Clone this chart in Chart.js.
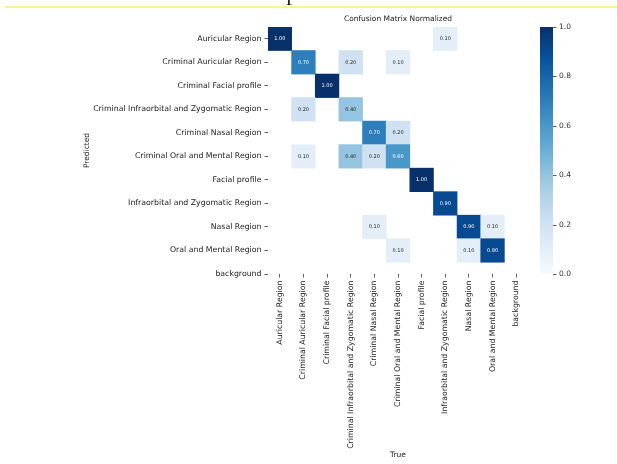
<!DOCTYPE html>
<html lang="en">
<head>
<meta charset="UTF-8">
<title>Confusion Matrix Normalized</title>
<style>
    body { margin: 0; background: #fff; }
    .page { position: relative; width: 617px; height: 464px; overflow: hidden; background: #fff; }
    .chart-box { position: absolute; left: 0; top: 0; width: 617px; height: 464px; }
    /* document heading above the figure, only its lower part is on the page */
    .caption { position: absolute; left: 0; width: 617px; top: -19px; text-align: center;
               font: 21px 'Liberation Serif', serif; color: #111; }
    .rule { position: absolute; left: 5px; right: 0; top: 6px; height: 2px; background: #f6f58c; }
</style>
<script src="https://cdn.jsdelivr.net/npm/chart.js"></script>
</head>
<body>
<div class="page">
    <div class="chart-box"><canvas id="cm"></canvas></div>
    <div class="caption">Epoch 5</div>
    <div class="rule"></div>
</div>
<script>
// classes, used for both axes
const classLabels = [
    'Auricular Region',
    'Criminal Auricular Region',
    'Criminal Facial profile',
    'Criminal Infraorbital and Zygomatic Region',
    'Criminal Nasal Region',
    'Criminal Oral and Mental Region',
    'Facial profile',
    'Infraorbital and Zygomatic Region',
    'Nasal Region',
    'Oral and Mental Region',
    'background'
];

// one row per predicted class, columns follow the true classes
const predAuricular       = [1.00, 0, 0, 0, 0, 0, 0, 0.10, 0, 0, 0];
const predCrimAuricular   = [0, 0.70, 0, 0.20, 0, 0.10, 0, 0, 0, 0, 0];
const predCrimFacial      = [0, 0, 1.00, 0, 0, 0, 0, 0, 0, 0, 0];
const predCrimInfraorb    = [0, 0.20, 0, 0.40, 0, 0, 0, 0, 0, 0, 0];
const predCrimNasal       = [0, 0, 0, 0, 0.70, 0.20, 0, 0, 0, 0, 0];
const predCrimOral        = [0, 0.10, 0, 0.40, 0.20, 0.60, 0, 0, 0, 0, 0];
const predFacial          = [0, 0, 0, 0, 0, 0, 1.00, 0, 0, 0, 0];
const predInfraorb        = [0, 0, 0, 0, 0, 0, 0, 0.90, 0, 0, 0];
const predNasal           = [0, 0, 0, 0, 0.10, 0, 0, 0, 0.90, 0.10, 0];
const predOral            = [0, 0, 0, 0, 0, 0.10, 0, 0, 0.10, 0.90, 0];
const predBackground      = [0, 0, 0, 0, 0, 0, 0, 0, 0, 0, 0];

const colorbarTicks = [0, 0.2, 0.4, 0.6, 0.8, 1.0];

const matrix = [predAuricular, predCrimAuricular, predCrimFacial, predCrimInfraorb, predCrimNasal,
    predCrimOral, predFacial, predInfraorb, predNasal, predOral, predBackground];

// matplotlib "Blues"
const bluesStops = ['#f7fbff', '#deebf7', '#c6dbef', '#9ecae1', '#6baed6', '#4292c6', '#2171b5', '#08519c', '#08306b'];

function hexRgb(h) {
    return [1, 3, 5].map(i => parseInt(h.slice(i, i + 2), 16));
}

function bluesRgb(v) {
    const t = Math.min(Math.max(v, 0), 1) * (bluesStops.length - 1);
    const i = Math.min(Math.floor(t), bluesStops.length - 2);
    const f = t - i;
    const a = hexRgb(bluesStops[i]), b = hexRgb(bluesStops[i + 1]);
    return a.map((x, k) => Math.round(x + (b[k] - x) * f));
}

function luminance(rgb) {
    const lin = rgb.map(c => {
        c /= 255;
        return c <= 0.03928 ? c / 12.92 : Math.pow((c + 0.055) / 1.055, 2.4);
    });
    return 0.2126 * lin[0] + 0.7152 * lin[1] + 0.0722 * lin[2];
}

// non-zero cells become floating bars spanning their row
const cells = [];
matrix.forEach((row, r) => row.forEach((v, c) => {
    if (v > 0) cells.push({ x: classLabels[c], y: [r - 0.5, r + 0.5], v: v });
}));

const FONT = 'DejaVu Sans';
const tickColor = '#333';

// value written in the middle of each cell
const cellText = {
    id: 'cellText',
    afterDatasetsDraw(chart) {
        const ctx = chart.ctx;
        const meta = chart.getDatasetMeta(0);
        ctx.save();
        ctx.font = '5px "' + FONT + '"';
        ctx.textAlign = 'center';
        ctx.textBaseline = 'middle';
        meta.data.forEach((bar, i) => {
            const v = cells[i].v;
            const p = bar.getCenterPoint();
            ctx.fillStyle = luminance(bluesRgb(v)) > 0.408 ? '#262626' : '#ffffff';
            ctx.fillText(v.toFixed(2), p.x, p.y);
        });
        ctx.restore();
    }
};

// gradient bar next to the colour scale
const colorbar = {
    id: 'colorbar',
    afterDraw(chart) {
        const s = chart.scales.cbar;
        const ctx = chart.ctx;
        const x0 = s.left + 12, w = 13;
        const yTop = s.getPixelForValue(1), yBot = s.getPixelForValue(0);
        const g = ctx.createLinearGradient(0, yBot, 0, yTop);
        bluesStops.forEach((c, i) => g.addColorStop(i / (bluesStops.length - 1), c));
        ctx.save();
        ctx.fillStyle = g;
        ctx.fillRect(x0, yTop, w, yBot - yTop);
        ctx.strokeStyle = tickColor;
        ctx.lineWidth = 0.8;
        s.ticks.forEach(t => {
            const y = Math.round(s.getPixelForValue(t.value)) + 0.5;
            ctx.beginPath();
            ctx.moveTo(x0 + w, y);
            ctx.lineTo(x0 + w + 3.5, y);
            ctx.stroke();
        });
        ctx.restore();
    }
};

new Chart(document.getElementById('cm'), {
    type: 'bar',
    data: {
        labels: classLabels,
        datasets: [{
            data: cells,
            backgroundColor: cells.map(c => 'rgb(' + bluesRgb(c.v).join(',') + ')'),
            borderWidth: 0,
            barPercentage: 1,
            categoryPercentage: 1
        }]
    },
    options: {
        responsive: true,
        maintainAspectRatio: false,
        animation: false,
        layout: { padding: { top: 15, left: 83, right: 0, bottom: 0 } },
        plugins: {
            legend: { display: false },
            tooltip: { enabled: false }
        },
        scales: {
            x: {
                type: 'category',
                offset: true,
                grid: { display: true, drawOnChartArea: false, offset: false, tickLength: 3.5, color: tickColor, lineWidth: 0.8 },
                border: { display: false },
                ticks: { autoSkip: false, minRotation: 90, maxRotation: 90, padding: 3, color: '#222', font: { family: FONT, size: 7.8 } },
                title: { display: true, text: 'True', color: '#222', font: { family: FONT, size: 7.5 }, padding: { top: 0, bottom: 4.5 } },
                afterFit(scale) { scale.height = 190; }
            },
            top: {
                type: 'category',
                position: 'top',
                grid: { display: false, drawTicks: false, tickLength: 0 },
                border: { display: false },
                ticks: { display: false },
                title: { display: true, text: 'Confusion Matrix Normalized', color: '#222', font: { family: FONT, size: 7.5 }, padding: { top: 0, bottom: 3 } }
            },
            y: {
                type: 'linear',
                reverse: true,
                min: -0.5,
                max: 10,
                afterBuildTicks(scale) { scale.ticks = classLabels.map((l, i) => ({ value: i })); },
                grid: { display: true, drawOnChartArea: false, tickLength: 3.5, color: tickColor, lineWidth: 0.8 },
                border: { display: false },
                ticks: { autoSkip: false, padding: 3, color: '#222', font: { family: FONT, size: 7.8 },
                         callback: v => classLabels[v] },
                title: { display: true, text: 'Predicted', color: '#222', font: { family: FONT, size: 7.5 }, padding: { top: 0, bottom: 0 } },
                afterFit(scale) { scale.width = 268 - 83; }
            },
            cbar: {
                type: 'linear',
                position: 'right',
                min: 0,
                max: 1,
                afterBuildTicks(scale) { scale.ticks = colorbarTicks.map(v => ({ value: v })); },
                grid: { display: false, drawTicks: false, tickLength: 0 },
                border: { display: false },
                ticks: { padding: 31, color: '#333', font: { family: FONT, size: 7.5 }, callback: v => v.toFixed(1) },
                afterFit(scale) {
                    scale.width = 617 - 528;
                    // the label gap is sideways here, it should not push the plot down
                    scale.paddingTop = 0;
                    scale.paddingBottom = 0;
                }
            }
        }
    },
    plugins: [cellText, colorbar]
});
</script>
</body>
</html>
